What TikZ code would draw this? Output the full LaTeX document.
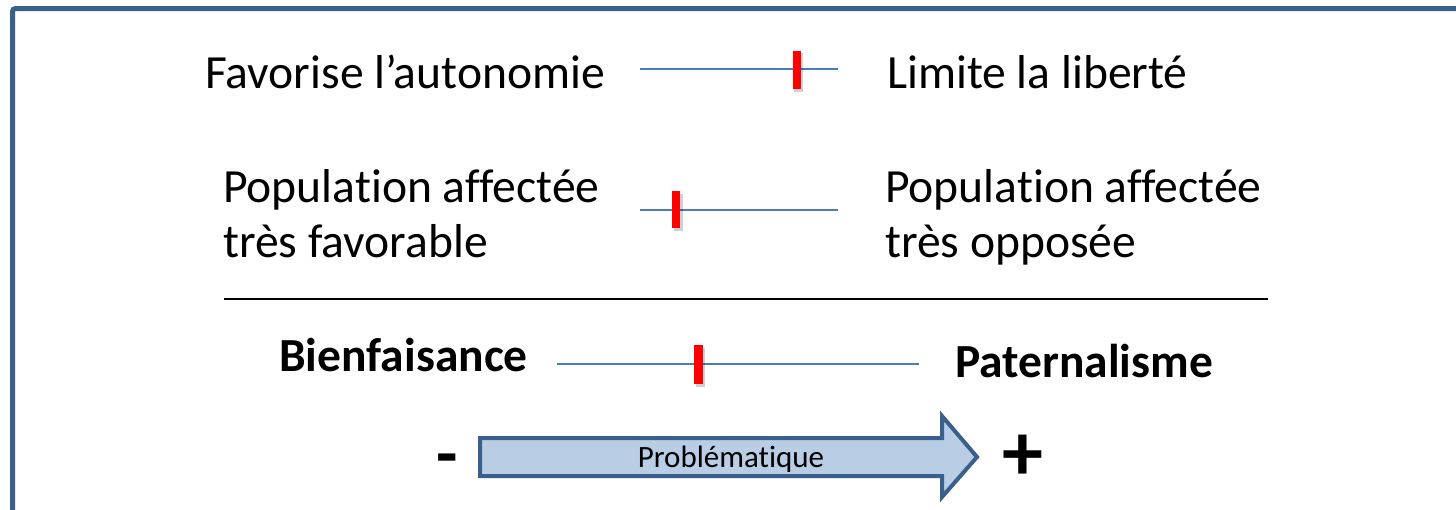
\documentclass[tikz,border=0pt]{standalone}
\usepackage{fontspec}
\setmainfont{Carlito}[Ligatures=NoCommon]
\definecolor{frameblue}{HTML}{3A5F8B}
\definecolor{lineblue}{HTML}{4A7EBB}
\definecolor{arrowfill}{HTML}{B9CDE5}
\begin{document}
\begin{tikzpicture}[x=1pt,y=-1pt,
  lbl/.style={anchor=base west,inner sep=0pt,font=\fontsize{47.6}{55}\selectfont,align=left},
  blbl/.style={anchor=base west,inner sep=0pt,font=\fontsize{47.5}{55}\selectfont\bfseries},
  scaleline/.style={draw=lineblue,line width=2.2pt},
  marker/.style={fill=red,draw=none},
  shadowbox/.style={fill=black,opacity=0.18,draw=none}
]
\useasboundingbox (0,0) rectangle (1456,509);
\clip (0,0) rectangle (1456,509);
\fill[white] (0,0) rectangle (1456,509);
% frame
\draw[frameblue,line width=5pt,rounded corners=3pt] (12.5,560) -- (12.5,8.5) -- (1520,8.5);

% row 1
\node[lbl] (fa) at (205,88) {Favorise l’autonomie};
\node[lbl] (ll) at (887,88) {Limite la liberté};
\coordinate (s1a) at (640,69);
\coordinate (s1b) at (838,69);
\draw[scaleline] (s1a) -- (s1b);
\fill[shadowbox] (794,53) rectangle (803,92);
\fill[marker] (792.5,50.5) rectangle (800.5,89);

% row 2
\node[lbl] (pf) at (223,257) {Population affectée\\très favorable};
\node[lbl] (po) at (885,257) {Population affectée\\très opposée};
\coordinate (s2a) at (640,210);
\coordinate (s2b) at (838,210);
\draw[scaleline] (s2a) -- (s2b);
\fill[shadowbox] (674,194) rectangle (683,231);
\fill[marker] (672,190.5) rectangle (680,228);

% separator
\coordinate (sepa) at (224,299);
\coordinate (sepb) at (1268,299);
\draw[black,line width=1.5pt] (sepa) -- (sepb);

% row 3
\node[blbl] (bf) at (279,371) {Bienfaisance};
\node[blbl] (pt) at (955,377) {Paternalisme};
\coordinate (s3a) at (557,364);
\coordinate (s3b) at (919,364);
\draw[scaleline] (s3a) -- (s3b);
\fill[shadowbox] (696,348) rectangle (705,387);
\fill[marker] (694,345) rectangle (702.5,384);

% arrow
\draw[frameblue,fill=arrowfill,line width=4pt,line join=miter]
  (480,438) -- (942,438) -- (942,416) -- (977,457) -- (942,497) -- (942,476) -- (480,476) -- cycle;
\node[anchor=base,inner sep=0pt,font=\fontsize{31}{36}\selectfont] (pb) at (731,467) {Problématique};
\node[anchor=base,inner sep=0pt,font=\fontsize{70}{78}\selectfont\bfseries] (mn) at (447,477) {-};
\node[anchor=base,inner sep=0pt,font=\fontsize{82}{90}\selectfont\bfseries] (pl) at (1023,480) {+};
\end{tikzpicture}
\end{document}
